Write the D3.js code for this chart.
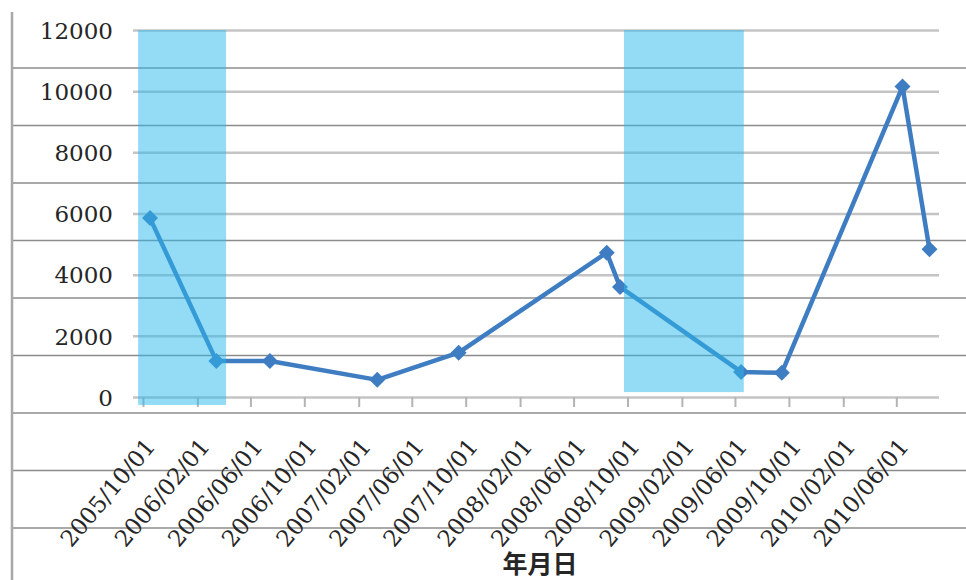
<!DOCTYPE html>
<html>
<head>
<meta charset="utf-8">
<script src="https://cdn.jsdelivr.net/npm/d3@7"></script>
<style>
  html, body { margin: 0; padding: 0; background: #fff; }
  svg { display: block; }
  .serif { font-family: "DejaVu Serif"; }
</style>
</head>
<body>
<svg id="chart" width="966" height="580"></svg>
<script>
// observations (date, value)
const dates = ["2005-10-17", "2006-03-16", "2006-07-15", "2007-03-15", "2007-09-15",
  "2008-08-15", "2008-09-14", "2009-06-15", "2009-09-15", "2010-06-15", "2010-08-15"];
const values = [5850, 1180, 1180, 560, 1450, 4720, 3600, 820, 790, 10150, 4830];

// shaded periods
const bandStarts = ["2005-09-20", "2008-09-23"];
const bandEnds = ["2006-04-07", "2009-06-21"];
const bandLows = [-260, 160];
const bandHighs = [12000, 12000];

const yTicks = [0, 2000, 4000, 6000, 8000, 10000, 12000];
const xTickLabels = ["2005/10/01", "2006/02/01", "2006/06/01", "2006/10/01", "2007/02/01",
  "2007/06/01", "2007/10/01", "2008/02/01", "2008/06/01", "2008/10/01", "2009/02/01",
  "2009/06/01", "2009/10/01", "2010/02/01", "2010/06/01"];
const xTitle = "年月日";

const parse = d3.timeParse("%Y-%m-%d");
const parseTick = d3.timeParse("%Y/%m/%d");
const fmt = d3.timeFormat("%Y/%m/%d");

const svg = d3.select("#chart");
const lineColor = "#3f7dc3";
const textColor = "#262626";

// worksheet cell grid behind the chart
const sheet = svg.append("g");
sheet.selectAll("line.row")
  .data(d3.range(68, 580, 57.5))
  .join("line")
  .attr("x1", 12).attr("x2", 966)
  .attr("y1", d => d).attr("y2", d => d)
  .attr("stroke", "#8c8c8c").attr("stroke-width", 1.5);
sheet.append("line")
  .attr("x1", 12).attr("x2", 12).attr("y1", 12).attr("y2", 580)
  .attr("stroke", "#a8a8a8").attr("stroke-width", 2.5);

const x = d3.scaleTime()
  .domain([parse("2005-09-13"), parse("2010-09-01")])
  .range([135, 937]);
const y = d3.scaleLinear().domain([0, 12000]).range([397, 30]);

// y axis + gridlines
const yAxis = svg.append("g")
  .attr("transform", "translate(135,0)")
  .call(d3.axisLeft(y).tickValues(yTicks).tickFormat(d3.format("d"))
    .tickSize(-(937 - 133)).tickPadding(22));
yAxis.attr("font-family", null).attr("font-size", null);
yAxis.select(".domain").remove();
yAxis.selectAll(".tick line")
  .attr("x1", -2)
  .attr("stroke", "#c4c4c4").attr("stroke-width", 2.5);
yAxis.selectAll(".tick text")
  .attr("class", "serif")
  .style("font-size", "23px")
  .attr("fill", textColor).attr("dy", "0.36em");

// x axis
const xAxis = svg.append("g")
  .attr("transform", "translate(0,397)")
  .call(d3.axisBottom(x).tickValues(xTickLabels.map(parseTick)).tickFormat(fmt)
    .tickSize(10).tickPadding(0));
xAxis.attr("font-family", null).attr("font-size", null);
xAxis.select(".domain").remove();
xAxis.selectAll(".tick line").attr("stroke", "#b4b4b4").attr("stroke-width", 2);
xAxis.selectAll(".tick text")
  .attr("class", "serif")
  .style("font-size", "23px")
  .attr("fill", textColor)
  .attr("text-anchor", "end")
  .attr("y", 0).attr("dy", 0)
  .attr("transform", "translate(13,50) rotate(-50)");

svg.append("text")
  .attr("x", 540).attr("y", 573)
  .attr("text-anchor", "middle")
  .style("font-family", "'Noto Sans CJK JP', sans-serif")
  .attr("font-weight", "bold").attr("font-size", 25)
  .attr("fill", textColor)
  .text(xTitle);

// series
const pts = dates.map((d, i) => ({ date: parse(d), value: values[i] }));
const line = d3.line().x(d => x(d.date)).y(d => y(d.value));

svg.append("path")
  .datum(pts)
  .attr("d", line)
  .attr("fill", "none")
  .attr("stroke", lineColor)
  .attr("stroke-width", 4.5)
  .attr("stroke-linejoin", "round");

const r = 8;
svg.append("g").selectAll("path")
  .data(pts)
  .join("path")
  .attr("transform", d => `translate(${x(d.date)},${y(d.value)})`)
  .attr("d", `M0,${-r}L${r},0L0,${r}L${-r},0Z`)
  .attr("fill", lineColor);

// translucent shaded periods on top
svg.append("g").selectAll("rect")
  .data(bandStarts.map((s, i) => ({ s: parse(s), e: parse(bandEnds[i]), lo: bandLows[i], hi: bandHighs[i] })))
  .join("rect")
  .attr("x", d => x(d.s))
  .attr("width", d => x(d.e) - x(d.s))
  .attr("y", d => y(d.hi))
  .attr("height", d => y(d.lo) - y(d.hi))
  .attr("fill", "rgb(41,185,235)")
  .attr("fill-opacity", 0.5);
</script>
</body>
</html>
